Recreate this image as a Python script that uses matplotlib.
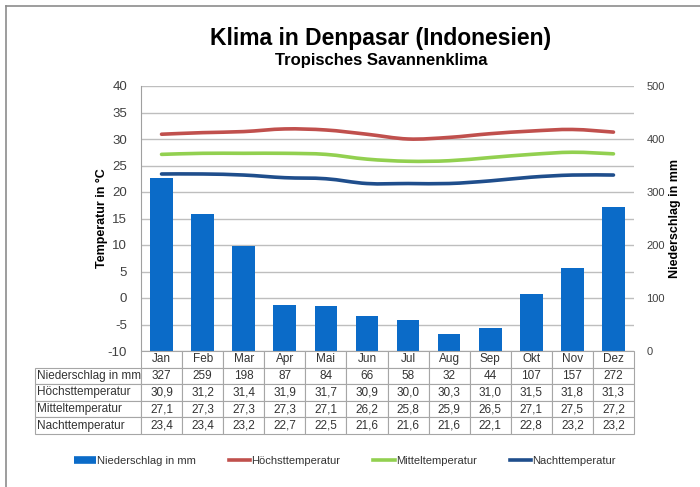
import numpy as np
import matplotlib
matplotlib.use('Agg')
import matplotlib.pyplot as plt
from matplotlib.path import Path
from matplotlib.patches import PathPatch
from matplotlib.lines import Line2D

plt.rcParams['font.family'] = ['Liberation Sans', 'DejaVu Sans']
plt.rcParams['axes.unicode_minus'] = False

months = ['Jan', 'Feb', 'Mar', 'Apr', 'Mai', 'Jun', 'Jul', 'Aug', 'Sep', 'Okt', 'Nov', 'Dez']
niederschlag = [327, 259, 198, 87, 84, 66, 58, 32, 44, 107, 157, 272]
hoechst = [30.9, 31.2, 31.4, 31.9, 31.7, 30.9, 30.0, 30.3, 31.0, 31.5, 31.8, 31.3]
mittel = [27.1, 27.3, 27.3, 27.3, 27.1, 26.2, 25.8, 25.9, 26.5, 27.1, 27.5, 27.2]
nacht = [23.4, 23.4, 23.2, 22.7, 22.5, 21.6, 21.6, 21.6, 22.1, 22.8, 23.2, 23.2]

c_bar = '#0B6BC8'
c_hoch = '#C0504D'
c_mittel = '#92D050'
c_nacht = '#1F4E8C'
grey = '#404040'


def smooth_path(x, y):
    # Catmull-Rom style bezier, like Excel's smoothed lines
    pts = np.column_stack([x, y]).astype(float)
    verts = [pts[0]]
    codes = [Path.MOVETO]
    n = len(pts)
    for i in range(n - 1):
        p0 = pts[max(i - 1, 0)]
        p1 = pts[i]
        p2 = pts[i + 1]
        p3 = pts[min(i + 2, n - 1)]
        c1 = p1 + (p2 - p0) / 6.0
        c2 = p2 - (p3 - p1) / 6.0
        verts += [c1, c2, p2]
        codes += [Path.CURVE4] * 3
    return Path(verts, codes)


fig = plt.figure(figsize=(7, 4.87), dpi=100)
ax = fig.add_axes([141 / 700, 1 - 351 / 487, 493 / 700, 265 / 487])
ax2 = ax.twinx()
ax3 = ax.twinx()

x = np.arange(len(months))

# temperature axis with grid
ax.set_xlim(-0.5, 11.5)
ax.set_ylim(-10, 40)
ax.set_yticks(range(-10, 41, 5))
ax.grid(axis='y', color='#BEBEBE', linewidth=1)
ax.set_axisbelow(True)
ax.set_xticks([])
ax.tick_params(axis='y', length=0, labelsize=9.5, labelcolor=grey, pad=10)
for s in ['top', 'right', 'bottom']:
    ax.spines[s].set_visible(False)
ax.spines['left'].set_color('#A0A0A0')
ax.set_ylabel('Temperatur in °C', fontsize=9, fontweight='bold', labelpad=0)

# precipitation bars
ax2.bar(x, niederschlag, width=0.55, color=c_bar, zorder=2)
ax2.set_ylim(0, 500)
ax2.set_yticks(range(0, 501, 100))
ax2.tick_params(axis='y', length=0, labelsize=8, labelcolor=grey, pad=9)
for s in ax2.spines.values():
    s.set_visible(False)
ax2.set_ylabel('Niederschlag in mm', fontsize=9, fontweight='bold', labelpad=3)

# temperature lines
ax3.set_ylim(-10, 40)
ax3.set_yticks([])
for s in ax3.spines.values():
    s.set_visible(False)
for vals, col in [(hoechst, c_hoch), (mittel, c_mittel), (nacht, c_nacht)]:
    ax3.add_patch(PathPatch(smooth_path(x, vals), facecolor='none', edgecolor=col,
                            linewidth=2.6, capstyle='round'))

# data table
fmt = lambda v: ('%.1f' % v).replace('.', ',')
cells = [[''] + months,
         ['Niederschlag in mm'] + [str(v) for v in niederschlag],
         ['Höchsttemperatur'] + [fmt(v) for v in hoechst],
         ['Mitteltemperatur'] + [fmt(v) for v in mittel],
         ['Nachttemperatur'] + [fmt(v) for v in nacht]]
x0 = (35 - 141) / 493
tab = ax3.table(cellText=cells, colWidths=[106] + [493 / 12] * 12,
                bbox=[x0, -83 / 265, 1 - x0, 83 / 265], cellLoc='center')
tab.auto_set_font_size(False)
for (r, c), cell in tab.get_celld().items():
    cell.set_edgecolor('#A6A6A6')
    cell.set_linewidth(0.8)
    cell.get_text().set_fontsize(8.5)
    cell.get_text().set_color('#333333')
    if c == 0:
        cell.get_text().set_ha('left')
        cell.PAD = 0.015
    if r == 0 and c == 0:
        cell.visible_edges = ''

# legend
handles = [Line2D([], [], color=c_bar, linewidth=5.5, solid_capstyle='butt'),
           Line2D([], [], color=c_hoch, linewidth=2.6),
           Line2D([], [], color=c_mittel, linewidth=2.6),
           Line2D([], [], color=c_nacht, linewidth=2.6)]
labels = ['Niederschlag in mm', 'Höchsttemperatur', 'Mitteltemperatur', 'Nachttemperatur']
fig.legend(handles, labels, loc='center', bbox_to_anchor=(345 / 700, 1 - 461 / 487),
           ncol=4, frameon=False, fontsize=8, handlelength=1.9, handletextpad=0.1,
           columnspacing=3.0, labelcolor='#333333')

fig.text(381 / 700, 1 - 38 / 487, 'Klima in Denpasar (Indonesien)', ha='center', va='center',
         fontsize=16.5, fontweight='bold')
fig.text(381 / 700, 1 - 61 / 487, 'Tropisches Savannenklima', ha='center', va='center',
         fontsize=12, fontweight='bold')

# outer frame (top and left edges visible in the image)
fig.add_artist(Line2D([6 / 700, 1], [1 - 6 / 487] * 2, color='#8C8C8C', linewidth=1.2))
fig.add_artist(Line2D([6 / 700] * 2, [0, 1 - 6 / 487], color='#8C8C8C', linewidth=1.2))

fig.savefig('out.png', dpi=100, facecolor='white')
